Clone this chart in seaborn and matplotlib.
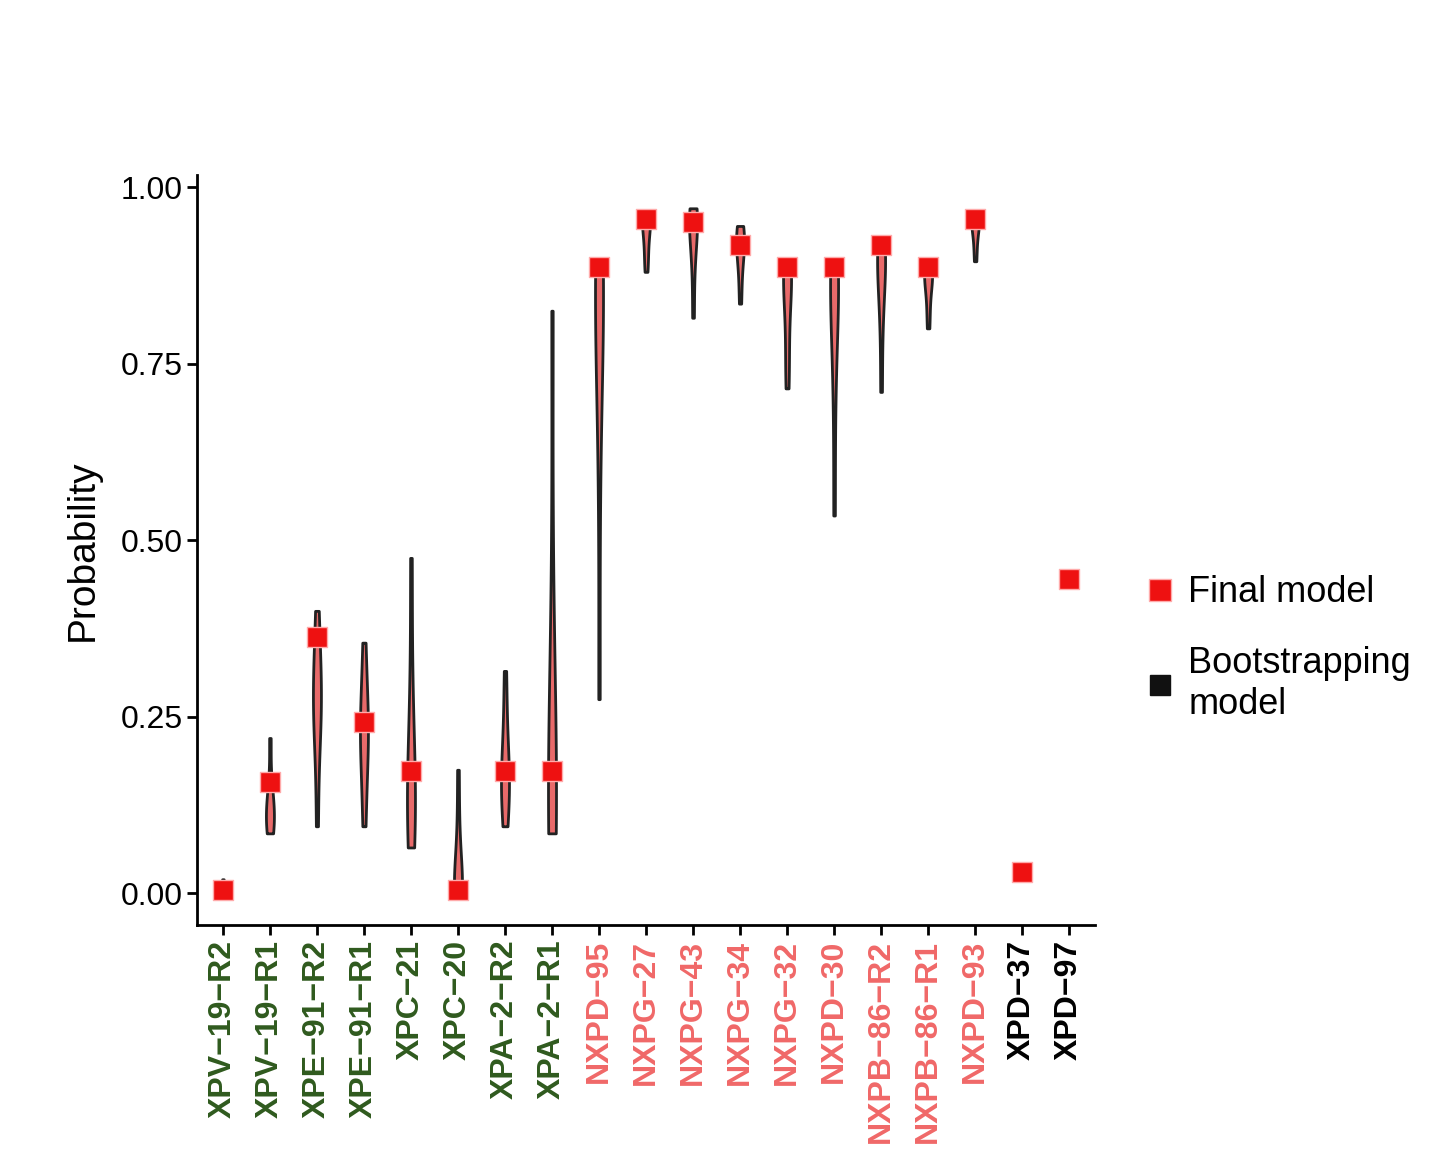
import matplotlib
matplotlib.use("Agg")
import matplotlib.pyplot as plt
import seaborn as sns
import pandas as pd
from matplotlib.lines import Line2D

categories = ["XPV-19-R2","XPV-19-R1","XPE-91-R2","XPE-91-R1","XPC-21","XPC-20","XPA-2-R2","XPA-2-R1",
              "NXPD-95","NXPG-27","NXPG-43","NXPG-34","NXPG-32","NXPD-30","NXPB-86-R2","NXPB-86-R1","NXPD-93",
              "XPD-37","XPD-97"]
groups = ["g"]*8 + ["n"]*9 + ["k"]*2
final_model = [0.005,0.157,0.363,0.243,0.173,0.005,0.173,0.173,
               0.887,0.955,0.950,0.918,0.887,0.887,0.918,0.887,0.955,
               0.030,0.445]
bootstrap = {
 "XPV-19-R2":[0.0,0.002,0.004,0.005,0.006,0.008,0.01,0.02],
 "XPV-19-R1":[0.085,0.09,0.1,0.11,0.12,0.13,0.15,0.22],
 "XPE-91-R2":[0.095,0.2,0.25,0.27,0.28,0.3,0.35,0.4],
 "XPE-91-R1":[0.095,0.15,0.2,0.22,0.24,0.25,0.3,0.355],
 "XPC-21":[0.065,0.1,0.12,0.13,0.15,0.2,0.3,0.475],
 "XPC-20":[0.0,0.0,0.005,0.01,0.02,0.05,0.1,0.175],
 "XPA-2-R2":[0.095,0.12,0.15,0.16,0.17,0.2,0.25,0.315],
 "XPA-2-R1":[0.085,0.1,0.12,0.13,0.15,0.2,0.4,0.825],
 "NXPD-95":[0.275,0.6,0.8,0.84,0.86,0.87,0.88,0.89],
 "NXPG-27":[0.88,0.9,0.92,0.94,0.95,0.955,0.96,0.965],
 "NXPG-43":[0.815,0.88,0.92,0.94,0.95,0.96,0.965,0.97],
 "NXPG-34":[0.835,0.87,0.9,0.91,0.92,0.93,0.94,0.945],
 "NXPG-32":[0.715,0.75,0.8,0.85,0.87,0.88,0.885,0.89],
 "NXPD-30":[0.535,0.7,0.8,0.85,0.87,0.88,0.885,0.89],
 "NXPB-86-R2":[0.71,0.8,0.85,0.88,0.9,0.91,0.915,0.92],
 "NXPB-86-R1":[0.8,0.83,0.86,0.87,0.88,0.885,0.89],
 "NXPD-93":[0.895,0.92,0.94,0.95,0.955,0.96,0.965],
}
group_colors = {"g":"#2f5a1e","n":"#f06868","k":"#000000"}

plt.rcParams["font.family"] = "Liberation Sans"
boot_df = pd.DataFrame([(c, v) for c, vals in bootstrap.items() for v in vals], columns=["cat","p"])
final_df = pd.DataFrame({"cat":categories, "p":final_model})

fig = plt.figure(figsize=(14.31, 11.55), dpi=100)
ax = fig.add_axes([0.1377, 0.199, 0.6275, 0.6494])
sns.violinplot(data=boot_df, x="cat", y="p", order=categories, cut=0, width=0.17,
               inner=None, color="#e86a6a", linecolor="#222222", linewidth=2,
               density_norm="width", ax=ax, saturation=1)
sns.stripplot(data=final_df, x="cat", y="p", order=categories, jitter=False, marker="s",
              color="#ee1111", size=14, edgecolor="#ffaaaa", linewidth=1, ax=ax, zorder=5)

ax.set_xlim(-0.55, 18.55)
ax.set_ylim(-0.045, 1.017)
ax.set_yticks([0, 0.25, 0.5, 0.75, 1.0])
ax.set_yticklabels(["0.00","0.25","0.50","0.75","1.00"], fontsize=23)
ax.set_xlabel("")
ax.set_ylabel("Probability", fontsize=28, labelpad=14)
ax.set_xticks(range(len(categories)))
ax.set_xticklabels([c.replace("-", "\u2212") for c in categories], rotation=90, fontsize=23, fontweight="bold")
for lbl, g in zip(ax.get_xticklabels(), groups):
    lbl.set_color(group_colors[g])
for s in ["top","right"]:
    ax.spines[s].set_visible(False)
for s in ["left","bottom"]:
    ax.spines[s].set_linewidth(2)
ax.tick_params(width=2, length=7)

handles = [Line2D([], [], marker="s", ls="", color="#ee1111", markersize=16, markeredgecolor="#ffaaaa"),
           Line2D([], [], marker="s", ls="", color="#111111", markersize=14)]
fig.legend(handles, ["Final model", "Bootstrapping\nmodel"], loc="upper left",
           bbox_to_anchor=(0.775, 0.53), frameon=False, fontsize=26, handletextpad=0.3,
           handlelength=1.0, labelspacing=1.0)
fig.savefig("out.png", dpi=100)
